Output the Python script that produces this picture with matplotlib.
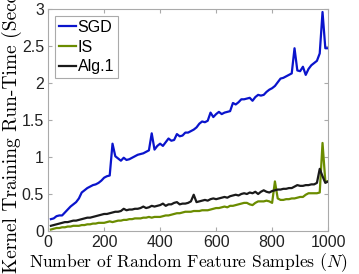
import numpy as np
import matplotlib
matplotlib.use("Agg")
import matplotlib.pyplot as plt

plt.rcParams['mathtext.fontset'] = 'cm'
plt.rcParams['font.family'] = ['Liberation Sans', 'DejaVu Sans']

# number of random feature samples
N = np.arange(10, 1001, 10)

sgd = [0.16, 0.17, 0.20, 0.21, 0.21, 0.25, 0.29, 0.33, 0.36, 0.39,
       0.44, 0.52, 0.55, 0.58, 0.60, 0.62, 0.63, 0.65, 0.68, 0.72,
       0.74, 0.75, 1.18, 1.01, 0.98, 0.95, 0.99, 0.96, 0.97, 0.99,
       1.01, 1.03, 1.04, 1.05, 1.07, 1.09, 1.32, 1.10, 1.15, 1.18,
       1.15, 1.20, 1.25, 1.22, 1.23, 1.31, 1.28, 1.29, 1.33, 1.33,
       1.35, 1.37, 1.40, 1.45, 1.48, 1.47, 1.49, 1.60, 1.54, 1.58,
       1.61, 1.58, 1.60, 1.61, 1.62, 1.73, 1.71, 1.74, 1.78, 1.78,
       1.79, 1.80, 1.76, 1.81, 1.84, 1.83, 1.84, 1.88, 1.91, 1.93,
       1.96, 2.01, 2.06, 2.07, 2.09, 2.11, 2.13, 2.47, 2.17, 2.16,
       2.22, 2.11, 2.19, 2.24, 2.27, 2.30, 2.40, 2.96, 2.47, 2.47]

imp_s = [0.02, 0.03, 0.04, 0.04, 0.05, 0.05, 0.06, 0.06, 0.07, 0.07,
         0.07, 0.08, 0.08, 0.09, 0.09, 0.10, 0.10, 0.11, 0.11, 0.11,
         0.12, 0.13, 0.12, 0.13, 0.14, 0.14, 0.15, 0.15, 0.16, 0.16,
         0.17, 0.17, 0.17, 0.18, 0.18, 0.19, 0.18, 0.19, 0.19, 0.19,
         0.20, 0.21, 0.21, 0.22, 0.23, 0.24, 0.24, 0.25, 0.26, 0.26,
         0.26, 0.27, 0.27, 0.27, 0.28, 0.28, 0.28, 0.29, 0.30, 0.31,
         0.31, 0.32, 0.33, 0.32, 0.34, 0.34, 0.35, 0.36, 0.37, 0.38,
         0.38, 0.36, 0.35, 0.38, 0.40, 0.40, 0.40, 0.41, 0.40, 0.38,
         0.67, 0.44, 0.42, 0.42, 0.43, 0.43, 0.44, 0.44, 0.45, 0.46,
         0.46, 0.49, 0.51, 0.51, 0.51, 0.51, 0.52, 1.19, 0.67, 0.67]

alg1 = [0.07, 0.08, 0.09, 0.10, 0.11, 0.12, 0.12, 0.13, 0.14, 0.14,
        0.15, 0.16, 0.17, 0.18, 0.18, 0.19, 0.20, 0.21, 0.22, 0.23,
        0.23, 0.24, 0.25, 0.26, 0.26, 0.27, 0.30, 0.28, 0.29, 0.29,
        0.30, 0.30, 0.31, 0.33, 0.31, 0.32, 0.34, 0.33, 0.34, 0.35,
        0.37, 0.34, 0.36, 0.36, 0.38, 0.39, 0.36, 0.37, 0.37, 0.38,
        0.40, 0.49, 0.39, 0.40, 0.41, 0.42, 0.41, 0.43, 0.44, 0.43,
        0.44, 0.45, 0.46, 0.45, 0.47, 0.48, 0.49, 0.48, 0.50, 0.51,
        0.50, 0.52, 0.51, 0.53, 0.50, 0.53, 0.55, 0.53, 0.52, 0.54,
        0.55, 0.56, 0.56, 0.57, 0.57, 0.58, 0.58, 0.60, 0.62, 0.61,
        0.61, 0.62, 0.62, 0.63, 0.63, 0.65, 0.84, 0.74, 0.65, 0.67]

fig = plt.figure(figsize=(3.59, 2.74), dpi=100)
ax = fig.add_axes([0.134, 0.157, 0.780, 0.810])

ax.plot(N, sgd, color='#0a14cc', lw=1.6, label='SGD')
ax.plot(N, imp_s, color='#6b8c00', lw=1.6, label='IS')
ax.plot(N, alg1, color='#1a1a1a', lw=1.6, label='Alg.1')

ax.set_xlim(0, 1000)
ax.set_ylim(0, 3)
ax.set_xticks([0, 200, 400, 600, 800, 1000])
ax.set_yticks([0, 0.5, 1, 1.5, 2, 2.5, 3])
ax.set_yticklabels(['0', '0.5', '1', '1.5', '2', '2.5', '3'])
ax.tick_params(direction='in', top=True, right=True, length=3,
               color='#aaaaaa', labelsize=11.5, labelcolor='#222222', pad=3)
for s in ax.spines.values():
    s.set_color('#aaaaaa')
    s.set_linewidth(0.8)

# serif labels like the LaTeX interpreter (cmr10 ships with matplotlib)
ax.set_xlabel('Number of Random Feature Samples ($N$)',
              family='cmr10', fontsize=12.6, labelpad=1)
ax.set_ylabel('Kernel Training Run-Time (Seconds)',
              family='cmr10', fontsize=14, labelpad=0)
ax.yaxis.set_label_coords(-0.093, 0.525)

leg = ax.legend(loc='upper left', fontsize=11.5, handlelength=1.05,
                handletextpad=0.12, borderpad=0.22, labelspacing=0.3,
                borderaxespad=0.45, fancybox=False, framealpha=1)
leg.get_frame().set_edgecolor('#aaaaaa')
leg.get_frame().set_linewidth(0.8)

fig.savefig('out.png', dpi=100)
